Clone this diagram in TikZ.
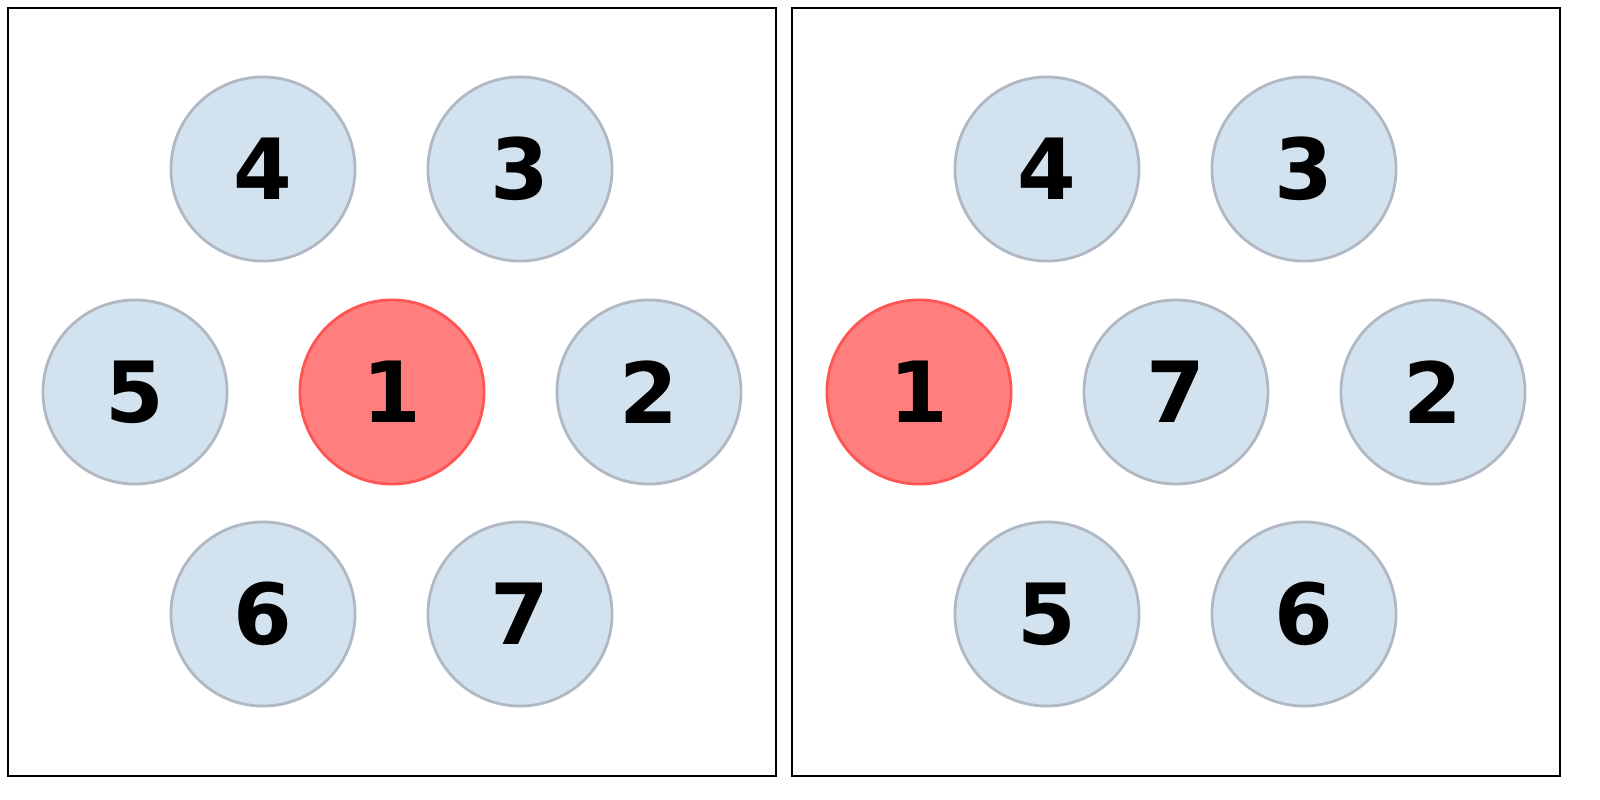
\documentclass[tikz,border=0pt]{standalone}
\usepackage{fontspec}
\setmainfont{DejaVu Sans}
\definecolor{cfill}{HTML}{D2E3EF}
\definecolor{cline}{HTML}{B0B8C4}
\definecolor{rfill}{HTML}{FF7F7F}
\definecolor{rline}{HTML}{FF5555}
\tikzset{
 px/.style={x=0.01cm,y=-0.01cm},
 ball/.style={circle,minimum size=1.84cm,inner sep=0,draw=cline,fill=cfill,line width=0.8pt,font=\fontsize{24}{24}\selectfont\bfseries},
 hot/.style={ball,draw=rline,fill=rfill},
 frame/.style={draw=black,line width=0.6pt}
}
\begin{document}
\begin{tikzpicture}[px]
\useasboundingbox (0,0) rectangle (1600,800);
\draw[frame] (8,8) rectangle (776,776);
\draw[frame] (792,8) rectangle (1560,776);
\node[ball] (a4) at (263,169) {4};
\node[ball] (a3) at (520,169) {3};
\node[ball] (a5) at (135,392) {5};
\node[hot]  (a1) at (392,392) {1};
\node[ball] (a2) at (649,392) {2};
\node[ball] (a6) at (263,614) {6};
\node[ball] (a7) at (520,614) {7};
\node[ball] (b4) at (1047,169) {4};
\node[ball] (b3) at (1304,169) {3};
\node[hot]  (b1) at (919,392) {1};
\node[ball] (b7) at (1176,392) {7};
\node[ball] (b2) at (1433,392) {2};
\node[ball] (b5) at (1047,614) {5};
\node[ball] (b6) at (1304,614) {6};
\end{tikzpicture}
\end{document}
